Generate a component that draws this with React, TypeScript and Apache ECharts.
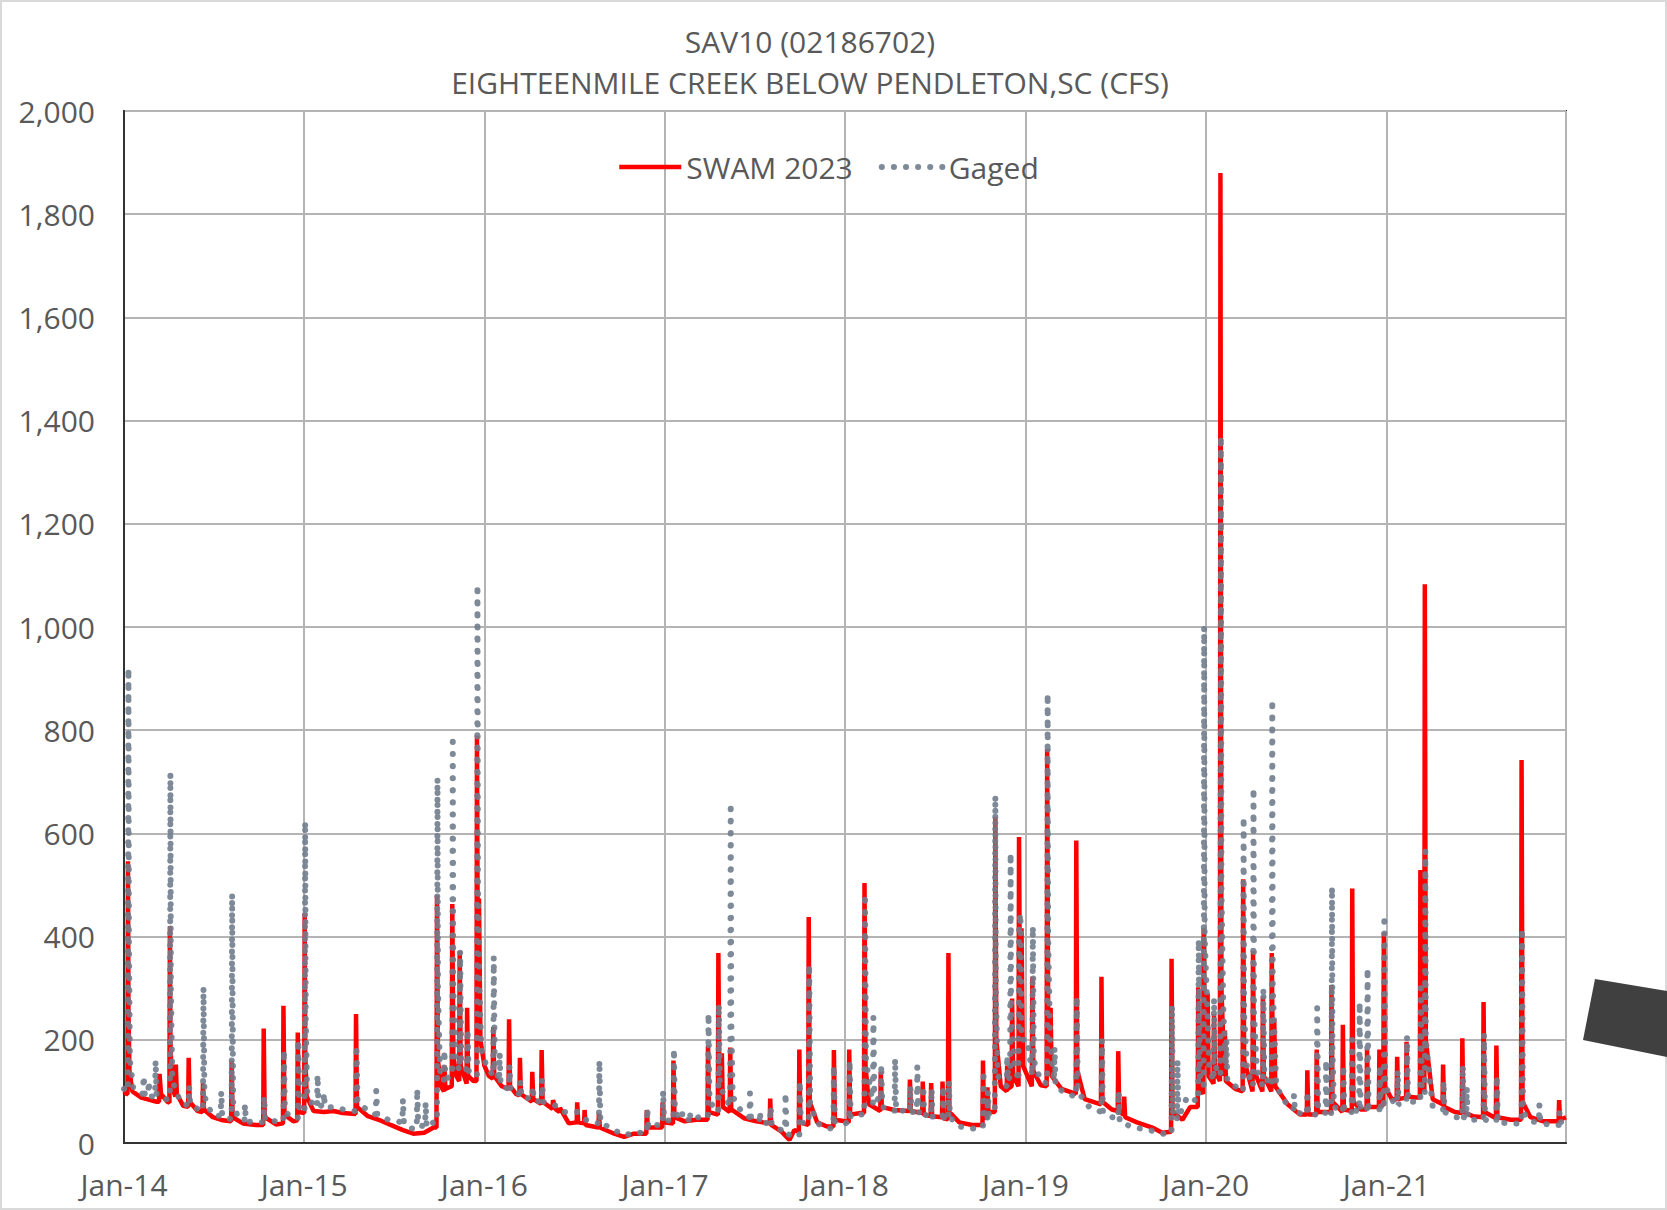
import React, { useEffect, useRef } from "react";
import * as echarts from "echarts";

const chartTitle = "SAV10 (02186702)\nEIGHTEENMILE CREEK BELOW PENDLETON,SC (CFS)";
const seriesNames = ["SWAM 2023", "Gaged"];
const monthNames = ["Jan", "Feb", "Mar", "Apr", "May", "Jun", "Jul", "Aug", "Sep", "Oct", "Nov", "Dec"];
const yTicks = { min: 0, max: 2000, interval: 200 };
const xRange = { min: "2014-01-01", max: "2021-12-31" };

const swam2023: [string, number][] = [
  ["2014-01-01", 100], ["2014-01-06", 95], ["2014-01-08", 95], ["2014-01-09", 546], ["2014-01-10", 260], ["2014-01-12", 140],
  ["2014-01-18", 100], ["2014-02-05", 88], ["2014-02-20", 84], ["2014-03-08", 80], ["2014-03-13", 80], ["2014-03-14", 134],
  ["2014-03-17", 95], ["2014-03-30", 80], ["2014-04-03", 78], ["2014-04-04", 420], ["2014-04-05", 200], ["2014-04-08", 110],
  ["2014-04-15", 90], ["2014-04-16", 152], ["2014-04-18", 95], ["2014-05-01", 72], ["2014-05-11", 70], ["2014-05-12", 165],
  ["2014-05-14", 80], ["2014-05-30", 62], ["2014-06-09", 60], ["2014-06-10", 116], ["2014-06-12", 65], ["2014-06-30", 50],
  ["2014-07-20", 44], ["2014-08-06", 42], ["2014-08-07", 160], ["2014-08-09", 50], ["2014-08-30", 38], ["2014-09-25", 35],
  ["2014-10-10", 35], ["2014-10-11", 222], ["2014-10-13", 50], ["2014-11-05", 36], ["2014-11-19", 38], ["2014-11-20", 266],
  ["2014-11-22", 55], ["2014-12-10", 42], ["2014-12-18", 44], ["2014-12-19", 214], ["2014-12-21", 60],
  ["2015-01-01", 58], ["2015-01-02", 445], ["2015-01-03", 180], ["2015-01-06", 90], ["2015-01-20", 62], ["2015-02-10", 60],
  ["2015-03-01", 62], ["2015-03-20", 58], ["2015-04-15", 56], ["2015-04-16", 250], ["2015-04-18", 70], ["2015-05-10", 52],
  ["2015-06-01", 45], ["2015-06-25", 35], ["2015-07-20", 25], ["2015-08-10", 18], ["2015-09-01", 20], ["2015-09-20", 30],
  ["2015-09-26", 30], ["2015-09-27", 480], ["2015-09-29", 160], ["2015-10-05", 110], ["2015-10-11", 100], ["2015-10-12", 150],
  ["2015-10-14", 105], ["2015-10-27", 110], ["2015-10-28", 463], ["2015-10-30", 170], ["2015-11-05", 130], ["2015-11-11", 120],
  ["2015-11-12", 372], ["2015-11-14", 150], ["2015-11-26", 115], ["2015-11-27", 262], ["2015-11-29", 130], ["2015-12-10", 120],
  ["2015-12-16", 120], ["2015-12-17", 789], ["2015-12-19", 260], ["2015-12-21", 474], ["2015-12-24", 200],
  ["2016-01-01", 150], ["2016-01-10", 130], ["2016-01-18", 125], ["2016-01-19", 225], ["2016-01-21", 130], ["2016-02-05", 110],
  ["2016-02-19", 105], ["2016-02-20", 240], ["2016-02-22", 110], ["2016-03-05", 95], ["2016-03-12", 92], ["2016-03-13", 165],
  ["2016-03-15", 95], ["2016-04-06", 80], ["2016-04-07", 138], ["2016-04-09", 85], ["2016-04-25", 76], ["2016-04-26", 180],
  ["2016-04-28", 80], ["2016-05-18", 66], ["2016-05-19", 83], ["2016-05-25", 65], ["2016-06-01", 60], ["2016-06-02", 68],
  ["2016-06-20", 38], ["2016-07-06", 40], ["2016-07-07", 79], ["2016-07-09", 40], ["2016-07-21", 38], ["2016-07-22", 64],
  ["2016-07-24", 35], ["2016-08-19", 30], ["2016-08-20", 57], ["2016-08-22", 30], ["2016-09-20", 18], ["2016-10-10", 12],
  ["2016-10-30", 18], ["2016-11-24", 18], ["2016-11-25", 64], ["2016-11-27", 30], ["2016-12-15", 30], ["2016-12-26", 30],
  ["2016-12-27", 79], ["2016-12-29", 40],
  ["2017-01-17", 38], ["2017-01-18", 160], ["2017-01-20", 50], ["2017-02-10", 42], ["2017-03-05", 45], ["2017-03-28", 45],
  ["2017-03-29", 189], ["2017-03-31", 60], ["2017-04-18", 55], ["2017-04-19", 368], ["2017-04-21", 120], ["2017-04-25", 90],
  ["2017-04-26", 174], ["2017-04-28", 70], ["2017-05-12", 60], ["2017-05-13", 185], ["2017-05-15", 65], ["2017-06-10", 48],
  ["2017-07-05", 42], ["2017-08-01", 38], ["2017-08-02", 86], ["2017-08-04", 35], ["2017-08-25", 22], ["2017-09-10", 6],
  ["2017-09-20", 25], ["2017-09-29", 22], ["2017-09-30", 181], ["2017-10-02", 40], ["2017-10-18", 35], ["2017-10-19", 438],
  ["2017-10-21", 80], ["2017-11-05", 40], ["2017-11-25", 32], ["2017-12-08", 32], ["2017-12-09", 180], ["2017-12-11", 45],
  ["2018-01-01", 42], ["2018-01-08", 40], ["2018-01-09", 181], ["2018-01-11", 55], ["2018-02-01", 58], ["2018-02-08", 58],
  ["2018-02-09", 504], ["2018-02-11", 150], ["2018-02-18", 75], ["2018-03-13", 62], ["2018-03-14", 138], ["2018-03-16", 70],
  ["2018-04-10", 64], ["2018-05-11", 62], ["2018-05-12", 123], ["2018-05-14", 62], ["2018-06-06", 58], ["2018-06-07", 119],
  ["2018-06-09", 55], ["2018-06-23", 52], ["2018-06-24", 116], ["2018-06-26", 52], ["2018-07-16", 50], ["2018-07-17", 119],
  ["2018-07-19", 48], ["2018-07-28", 46], ["2018-07-29", 368], ["2018-07-31", 60], ["2018-08-20", 40], ["2018-09-15", 35],
  ["2018-10-06", 35], ["2018-10-07", 160], ["2018-10-09", 50], ["2018-10-15", 48], ["2018-10-16", 108], ["2018-10-18", 60],
  ["2018-10-31", 60], ["2018-11-01", 632], ["2018-11-03", 200], ["2018-11-12", 110], ["2018-11-24", 100], ["2018-11-25", 150],
  ["2018-11-27", 105], ["2018-12-04", 110], ["2018-12-05", 280], ["2018-12-07", 130], ["2018-12-18", 110], ["2018-12-19", 593],
  ["2018-12-21", 250], ["2018-12-24", 416], ["2018-12-27", 150],
  ["2019-01-14", 110], ["2019-01-15", 322], ["2019-01-17", 140], ["2019-02-01", 112], ["2019-02-13", 110], ["2019-02-14", 764],
  ["2019-02-16", 250], ["2019-02-20", 130], ["2019-02-21", 262], ["2019-02-23", 130], ["2019-03-15", 105], ["2019-04-13", 95],
  ["2019-04-14", 586], ["2019-04-16", 140], ["2019-05-01", 85], ["2019-06-03", 75], ["2019-06-04", 322], ["2019-06-06", 80],
  ["2019-06-25", 65], ["2019-07-07", 62], ["2019-07-08", 178], ["2019-07-10", 60], ["2019-07-19", 55], ["2019-07-20", 90],
  ["2019-07-22", 50], ["2019-08-15", 40], ["2019-09-15", 30], ["2019-10-05", 20], ["2019-10-23", 22], ["2019-10-24", 357],
  ["2019-10-26", 60], ["2019-11-15", 45], ["2019-12-01", 70], ["2019-12-16", 70], ["2019-12-17", 302], ["2019-12-19", 110],
  ["2019-12-27", 95], ["2019-12-28", 416], ["2019-12-30", 180],
  ["2020-01-04", 150], ["2020-01-05", 290], ["2020-01-07", 130], ["2020-01-17", 115], ["2020-01-18", 250], ["2020-01-20", 140],
  ["2020-01-30", 120], ["2020-01-31", 1880], ["2020-02-02", 300], ["2020-02-08", 130], ["2020-02-09", 218], ["2020-02-11", 120],
  ["2020-03-01", 105], ["2020-03-16", 100], ["2020-03-17", 511], ["2020-03-19", 160], ["2020-04-05", 100], ["2020-04-06", 372],
  ["2020-04-08", 140], ["2020-04-25", 100], ["2020-04-26", 284], ["2020-04-28", 130], ["2020-05-13", 100], ["2020-05-14", 368],
  ["2020-05-16", 160], ["2020-05-19", 240], ["2020-05-21", 110], ["2020-06-15", 75], ["2020-07-10", 55], ["2020-07-24", 55],
  ["2020-07-25", 141], ["2020-07-27", 55], ["2020-08-12", 55], ["2020-08-13", 181], ["2020-08-15", 60], ["2020-09-11", 60],
  ["2020-09-12", 306], ["2020-09-14", 80], ["2020-10-04", 60], ["2020-10-05", 229], ["2020-10-07", 65], ["2020-10-23", 62],
  ["2020-10-24", 493], ["2020-10-26", 80], ["2020-11-10", 65], ["2020-11-22", 65], ["2020-11-23", 181], ["2020-11-25", 70],
  ["2020-12-17", 70], ["2020-12-18", 181], ["2020-12-20", 75], ["2020-12-26", 72], ["2020-12-27", 408], ["2020-12-29", 110],
  ["2021-01-12", 85], ["2021-01-22", 85], ["2021-01-23", 167], ["2021-01-25", 85], ["2021-02-10", 88], ["2021-02-11", 196],
  ["2021-02-13", 90], ["2021-03-01", 88], ["2021-03-10", 88], ["2021-03-11", 529], ["2021-03-13", 120], ["2021-03-19", 100],
  ["2021-03-20", 1083], ["2021-03-22", 200], ["2021-04-05", 85], ["2021-04-25", 75], ["2021-04-26", 152], ["2021-04-28", 70],
  ["2021-05-20", 60], ["2021-06-03", 58], ["2021-06-04", 203], ["2021-06-06", 60], ["2021-06-25", 52], ["2021-07-16", 50],
  ["2021-07-17", 273], ["2021-07-19", 60], ["2021-08-11", 48], ["2021-08-12", 189], ["2021-08-14", 50], ["2021-09-10", 45],
  ["2021-10-01", 45], ["2021-10-02", 742], ["2021-10-04", 80], ["2021-10-20", 50], ["2021-11-15", 42], ["2021-12-16", 42],
  ["2021-12-17", 83], ["2021-12-19", 45], ["2021-12-31", 50],
];

const gaged: [string, number][] = [
  ["2014-01-01", 105], ["2014-01-06", 100], ["2014-01-09", 100], ["2014-01-10", 920], ["2014-01-11", 400], ["2014-01-13", 160],
  ["2014-01-20", 105], ["2014-02-08", 95], ["2014-02-10", 130], ["2014-02-12", 95], ["2014-02-19", 92], ["2014-02-20", 120],
  ["2014-02-22", 90], ["2014-03-05", 90], ["2014-03-06", 160], ["2014-03-08", 95], ["2014-03-20", 85], ["2014-04-04", 85],
  ["2014-04-05", 716], ["2014-04-06", 300], ["2014-04-09", 120], ["2014-04-25", 80], ["2014-05-12", 72], ["2014-05-13", 110],
  ["2014-05-15", 75], ["2014-06-01", 65], ["2014-06-10", 62], ["2014-06-11", 302], ["2014-06-13", 90], ["2014-06-28", 55],
  ["2014-07-16", 52], ["2014-07-17", 100], ["2014-07-19", 50], ["2014-08-07", 46], ["2014-08-08", 483], ["2014-08-10", 80],
  ["2014-08-20", 48], ["2014-09-02", 44], ["2014-09-03", 75], ["2014-09-05", 42], ["2014-09-28", 40], ["2014-10-11", 40],
  ["2014-10-12", 90], ["2014-10-14", 45], ["2014-11-05", 42], ["2014-11-20", 42], ["2014-11-21", 180], ["2014-11-23", 60],
  ["2014-12-10", 48], ["2014-12-19", 48], ["2014-12-20", 200], ["2014-12-22", 65],
  ["2015-01-02", 60], ["2015-01-03", 623], ["2015-01-04", 250], ["2015-01-07", 100], ["2015-01-20", 70], ["2015-01-27", 70],
  ["2015-01-28", 132], ["2015-01-30", 75], ["2015-02-09", 70], ["2015-02-10", 97], ["2015-02-12", 70], ["2015-03-10", 68],
  ["2015-04-01", 62], ["2015-04-16", 62], ["2015-04-17", 189], ["2015-04-19", 80], ["2015-05-10", 62], ["2015-05-26", 55],
  ["2015-05-27", 102], ["2015-05-29", 55], ["2015-06-20", 45], ["2015-07-19", 40], ["2015-07-20", 85], ["2015-07-22", 38],
  ["2015-08-05", 28], ["2015-08-17", 28], ["2015-08-18", 105], ["2015-08-20", 35], ["2015-09-03", 32], ["2015-09-04", 79],
  ["2015-09-06", 30], ["2015-09-20", 40], ["2015-09-27", 40], ["2015-09-28", 707], ["2015-09-29", 300], ["2015-10-03", 140],
  ["2015-10-11", 120], ["2015-10-12", 180], ["2015-10-14", 125], ["2015-10-28", 130], ["2015-10-29", 789], ["2015-10-30", 300],
  ["2015-11-04", 160], ["2015-11-12", 140], ["2015-11-13", 372], ["2015-11-15", 160], ["2015-11-27", 140], ["2015-11-28", 220],
  ["2015-11-30", 140], ["2015-12-10", 130], ["2015-12-17", 130], ["2015-12-18", 1082], ["2015-12-19", 500], ["2015-12-22", 300],
  ["2015-12-26", 180],
  ["2016-01-05", 150], ["2016-01-19", 130], ["2016-01-20", 361], ["2016-01-22", 150], ["2016-01-31", 120], ["2016-02-01", 174],
  ["2016-02-03", 110], ["2016-02-20", 105], ["2016-02-21", 150], ["2016-02-23", 100], ["2016-03-13", 95], ["2016-03-14", 120],
  ["2016-03-16", 90], ["2016-04-07", 85], ["2016-04-08", 110], ["2016-04-10", 82], ["2016-04-26", 80], ["2016-04-27", 123],
  ["2016-04-29", 80], ["2016-05-20", 75], ["2016-06-10", 60], ["2016-07-08", 60], ["2016-07-25", 45], ["2016-08-20", 38],
  ["2016-08-21", 160], ["2016-08-23", 40], ["2016-09-20", 25], ["2016-10-10", 15], ["2016-11-01", 20], ["2016-11-25", 20],
  ["2016-11-26", 68], ["2016-11-28", 30], ["2016-12-15", 35], ["2016-12-27", 35], ["2016-12-28", 101], ["2016-12-30", 45],
  ["2017-01-18", 42], ["2017-01-19", 183], ["2017-01-21", 60], ["2017-02-04", 45], ["2017-02-05", 57], ["2017-02-07", 45],
  ["2017-02-19", 45], ["2017-02-20", 60], ["2017-02-22", 45], ["2017-03-10", 50], ["2017-03-29", 50], ["2017-03-30", 251],
  ["2017-04-01", 80], ["2017-04-19", 60], ["2017-04-20", 269], ["2017-04-22", 110], ["2017-05-13", 70], ["2017-05-14", 659],
  ["2017-05-15", 250], ["2017-05-18", 90], ["2017-06-05", 60], ["2017-06-21", 50], ["2017-06-22", 97], ["2017-06-24", 50],
  ["2017-07-11", 42], ["2017-07-12", 61], ["2017-07-14", 40], ["2017-08-02", 38], ["2017-08-03", 70], ["2017-08-05", 35],
  ["2017-08-25", 25], ["2017-09-01", 25], ["2017-09-02", 97], ["2017-09-04", 20], ["2017-09-15", 12], ["2017-09-30", 15],
  ["2017-10-01", 120], ["2017-10-03", 40], ["2017-10-19", 38], ["2017-10-20", 346], ["2017-10-22", 70], ["2017-11-10", 35],
  ["2017-11-30", 28], ["2017-12-08", 30], ["2017-12-09", 150], ["2017-12-11", 40],
  ["2018-01-01", 38], ["2018-01-09", 40], ["2018-01-10", 160], ["2018-01-12", 50], ["2018-02-01", 55], ["2018-02-09", 55],
  ["2018-02-10", 482], ["2018-02-12", 160], ["2018-02-26", 75], ["2018-02-27", 244], ["2018-03-01", 90], ["2018-03-14", 80],
  ["2018-03-15", 152], ["2018-03-17", 70], ["2018-04-11", 62], ["2018-04-12", 163], ["2018-04-14", 65], ["2018-05-12", 60],
  ["2018-05-13", 110], ["2018-05-15", 60], ["2018-05-26", 60], ["2018-05-27", 149], ["2018-05-29", 60], ["2018-06-07", 58],
  ["2018-06-08", 110], ["2018-06-10", 55], ["2018-06-24", 52], ["2018-06-25", 105], ["2018-06-27", 50], ["2018-07-17", 50],
  ["2018-07-18", 110], ["2018-07-20", 45], ["2018-07-29", 45], ["2018-07-30", 120], ["2018-08-01", 50], ["2018-08-20", 32],
  ["2018-09-15", 28], ["2018-10-07", 30], ["2018-10-08", 140], ["2018-10-10", 45], ["2018-10-16", 45], ["2018-10-17", 100],
  ["2018-10-19", 55], ["2018-10-31", 60], ["2018-11-01", 673], ["2018-11-02", 300], ["2018-11-06", 130], ["2018-11-24", 110],
  ["2018-11-25", 170], ["2018-11-27", 120], ["2018-12-01", 130], ["2018-12-02", 562], ["2018-12-03", 250], ["2018-12-10", 150],
  ["2018-12-18", 120], ["2018-12-19", 420], ["2018-12-22", 445], ["2018-12-24", 200],
  ["2019-01-05", 200], ["2019-01-15", 130], ["2019-01-16", 420], ["2019-01-18", 160], ["2019-02-01", 120], ["2019-02-14", 115],
  ["2019-02-15", 871], ["2019-02-16", 400], ["2019-02-20", 200], ["2019-02-28", 120], ["2019-03-01", 185], ["2019-03-03", 110],
  ["2019-03-25", 95], ["2019-04-14", 90], ["2019-04-15", 284], ["2019-04-17", 100], ["2019-05-10", 70], ["2019-06-04", 60],
  ["2019-06-05", 200], ["2019-06-07", 60], ["2019-06-25", 50], ["2019-07-08", 48], ["2019-07-09", 100], ["2019-07-11", 40],
  ["2019-08-10", 30], ["2019-09-10", 25], ["2019-10-05", 18], ["2019-10-24", 18], ["2019-10-25", 266], ["2019-10-27", 50],
  ["2019-11-04", 45], ["2019-11-05", 160], ["2019-11-07", 50], ["2019-11-25", 90], ["2019-12-17", 80], ["2019-12-18", 394],
  ["2019-12-20", 130], ["2019-12-28", 110], ["2019-12-29", 1000], ["2019-12-30", 400],
  ["2020-01-03", 300], ["2020-01-08", 150], ["2020-01-17", 120], ["2020-01-18", 280], ["2020-01-20", 150], ["2020-01-31", 130],
  ["2020-02-01", 1370], ["2020-02-02", 500], ["2020-02-06", 250], ["2020-02-11", 150], ["2020-02-12", 200], ["2020-02-14", 120],
  ["2020-03-01", 110], ["2020-03-17", 100], ["2020-03-18", 632], ["2020-03-19", 250], ["2020-03-25", 140], ["2020-04-06", 110],
  ["2020-04-07", 688], ["2020-04-08", 250], ["2020-04-14", 140], ["2020-04-26", 110], ["2020-04-27", 300], ["2020-04-29", 130],
  ["2020-05-14", 110], ["2020-05-15", 859], ["2020-05-16", 300], ["2020-05-20", 200], ["2020-05-23", 110], ["2020-06-10", 80],
  ["2020-06-27", 65], ["2020-06-28", 94], ["2020-06-30", 60], ["2020-07-24", 55], ["2020-07-25", 100], ["2020-07-27", 55],
  ["2020-08-13", 55], ["2020-08-14", 262], ["2020-08-16", 65], ["2020-08-31", 58], ["2020-09-01", 160], ["2020-09-03", 60],
  ["2020-09-12", 58], ["2020-09-13", 496], ["2020-09-14", 180], ["2020-09-17", 70], ["2020-10-05", 60], ["2020-10-06", 150],
  ["2020-10-08", 60], ["2020-10-23", 60], ["2020-10-24", 200], ["2020-10-26", 65], ["2020-11-07", 60], ["2020-11-08", 273],
  ["2020-11-10", 65], ["2020-11-23", 62], ["2020-11-24", 339], ["2020-11-26", 70], ["2020-12-18", 65], ["2020-12-19", 150],
  ["2020-12-21", 65], ["2020-12-27", 65], ["2020-12-28", 441], ["2020-12-30", 110],
  ["2021-01-15", 80], ["2021-01-23", 75], ["2021-01-24", 140], ["2021-01-26", 75], ["2021-02-11", 78], ["2021-02-12", 207],
  ["2021-02-14", 80], ["2021-03-01", 80], ["2021-03-11", 80], ["2021-03-12", 300], ["2021-03-14", 100], ["2021-03-20", 95],
  ["2021-03-21", 566], ["2021-03-22", 200], ["2021-04-05", 70], ["2021-04-26", 65], ["2021-04-27", 120], ["2021-04-29", 60],
  ["2021-05-20", 50], ["2021-06-04", 50], ["2021-06-05", 150], ["2021-06-07", 50], ["2021-06-12", 48], ["2021-06-13", 108],
  ["2021-06-15", 45], ["2021-07-17", 45], ["2021-07-18", 211], ["2021-07-20", 45], ["2021-08-12", 42], ["2021-08-13", 130],
  ["2021-08-15", 40], ["2021-09-10", 38], ["2021-10-02", 38], ["2021-10-03", 416], ["2021-10-05", 60], ["2021-10-20", 42],
  ["2021-11-06", 40], ["2021-11-07", 75], ["2021-11-09", 38], ["2021-12-05", 35], ["2021-12-17", 35], ["2021-12-18", 60],
  ["2021-12-20", 40], ["2021-12-31", 45],
];

const FONT = "'Open Sans', 'Noto Sans', sans-serif";
const TEXT = "#595959";
const RED = "#ff0000";
const GRAY = "#717d8e";
const redLine = { color: RED, width: 4.5 };
const grayLine = { color: GRAY, width: 6, type: [0.1, 12] as number[], cap: "round" as const, opacity: 0.9 };

export default function App() {
  const ref = useRef<HTMLDivElement>(null);
  useEffect(() => {
    document.body.style.margin = "0";
    const chart = echarts.init(ref.current!, null, { renderer: "svg" });
    chart.setOption({
      animation: false,
      backgroundColor: "#ffffff",
      textStyle: { fontFamily: FONT },
      title: {
        text: chartTitle,
        left: 810,
        top: 21,
        textAlign: "center",
        padding: 0,
        textStyle: { fontFamily: FONT, fontSize: 30, fontWeight: "normal", color: TEXT, lineHeight: 41 },
      },
      legend: {
        data: [
          { name: seriesNames[0], itemStyle: { opacity: 0 }, lineStyle: { ...redLine } },
          { name: seriesNames[1], itemStyle: { opacity: 0 }, lineStyle: { ...grayLine } },
        ],
        left: 617,
        top: 152,
        padding: 0,
        itemWidth: 62,
        itemHeight: 30,
        itemGap: 26,
        itemStyle: { opacity: 0 },
        textStyle: { fontFamily: FONT, fontSize: 30, color: TEXT },
      },
      grid: {
        left: 124,
        top: 111,
        width: 1442,
        height: 1032,
        show: true,
        borderColor: "#333333",
        borderWidth: 2,
        containLabel: false,
      },
      xAxis: {
        type: "time",
        min: xRange.min,
        max: xRange.max,
        splitNumber: 8,
        minInterval: 365 * 86400000,
        maxInterval: 366 * 86400000,
        axisLine: { show: true, lineStyle: { color: "#333333", width: 2 } },
        axisTick: { show: false },
        splitLine: { show: true, lineStyle: { color: "#b4b4b4", width: 2 } },
        axisLabel: {
          fontFamily: FONT,
          fontSize: 30,
          color: TEXT,
          margin: 26,
          showMinLabel: true,
          showMaxLabel: false,
          hideOverlap: false,
          formatter: (v: number) => {
            const d = new Date(v);
            return monthNames[d.getMonth()] + "-" + String(d.getFullYear()).slice(2);
          },
        },
      },
      yAxis: {
        type: "value",
        min: yTicks.min,
        max: yTicks.max,
        interval: yTicks.interval,
        axisLine: { show: true, lineStyle: { color: "#333333", width: 2 } },
        axisTick: { show: false },
        splitLine: { show: true, lineStyle: { color: "#b4b4b4", width: 2 } },
        axisLabel: {
          fontFamily: FONT,
          fontSize: 30,
          color: TEXT,
          margin: 29,
          formatter: (v: number) => v.toLocaleString("en-US"),
        },
      },
      series: [
        {
          name: seriesNames[0],
          type: "line",
          data: swam2023,
          symbol: "none",
          showSymbol: false,
          itemStyle: { color: RED },
          lineStyle: { ...redLine },
          z: 2,
        },
        {
          name: seriesNames[1],
          type: "line",
          data: gaged,
          symbol: "none",
          showSymbol: false,
          itemStyle: { color: GRAY },
          lineStyle: { ...grayLine },
          z: 3,
        },
      ],
      graphic: [
        {
          type: "rect",
          shape: { x: 1, y: 1, width: 1665, height: 1208 },
          style: { fill: "none", stroke: "#d9d9d9", lineWidth: 2 },
          silent: true,
          z: 100,
        },
        {
          type: "polygon",
          shape: { points: [[1595, 979], [1667, 991], [1667, 1057], [1583, 1040]] },
          style: { fill: "#404040" },
          silent: true,
          z: 100,
        },
      ],
    });
    return () => chart.dispose();
  }, []);
  return <div ref={ref} style={{ position: "absolute", left: 0, top: 0, width: 1667, height: 1210 }} />;
}
